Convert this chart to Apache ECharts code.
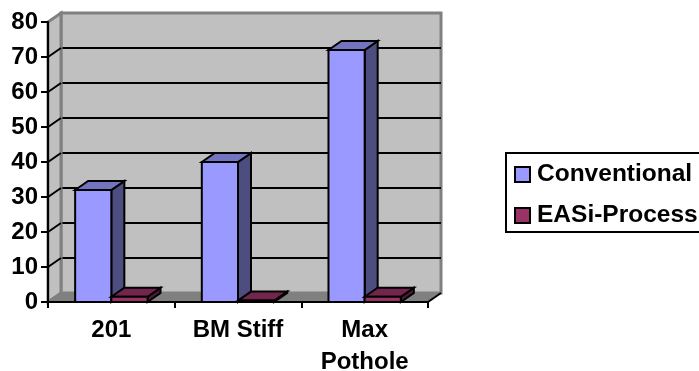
<!DOCTYPE html>
<html>
<head>
<meta charset="utf-8">
<style>
  html, body { margin: 0; padding: 0; background: #fff; }
  #chart { width: 699px; height: 371px; overflow: hidden; }
</style>
<script src="https://cdn.jsdelivr.net/npm/echarts@6/dist/echarts.min.js"></script>
</head>
<body>
<div id="chart"></div>
<script>
var categories = ['201', 'BM Stiff', 'Max\nPothole']
var conventional = [32, 40, 72]
var easiProcess = [1.5, 0.4, 1.5]
var yTicks = [0, 10, 20, 30, 40, 50, 60, 70, 80]

// how far the back wall sits behind the front plane, in pixels
var DX = 13
var DY = -9
var FONT = '"Liberation Sans", Arial, sans-serif'

function bar3d (slot, front, top, side) {
  return function (params, api) {
    var base = api.coord([api.value(0), 0])
    var head = api.coord([api.value(0), api.value(1)])
    var band = api.size([1, 0])[0]
    var w = band * 0.2857
    var x0 = base[0] - w + slot * w
    var x1 = x0 + w
    var y0 = base[1]
    var y1 = head[1]
    var edge = { stroke: '#000', lineWidth: 2, lineJoin: 'miter' }
    return {
      type: 'group',
      children: [
        { type: 'polygon', shape: { points: [[x1, y0], [x1 + DX, y0 + DY], [x1 + DX, y1 + DY], [x1, y1]] }, style: Object.assign({ fill: side }, edge) },
        { type: 'polygon', shape: { points: [[x0, y1], [x0 + DX, y1 + DY], [x1 + DX, y1 + DY], [x1, y1]] }, style: Object.assign({ fill: top }, edge) },
        { type: 'rect', shape: { x: x0, y: y1, width: w, height: y0 - y1 }, style: Object.assign({ fill: front }, edge) }
      ]
    }
  }
}

// left wall and floor, one pass over the ticks
function shell (params, api) {
  var v = api.value(0)
  var p = api.coord([0, v])
  var size = api.size([1, 80])
  var x = p[0] - size[0] / 2
  var children = [
    { type: 'line', shape: { x1: x, y1: p[1], x2: x + DX, y2: p[1] + DY }, style: { stroke: v === 0 || v === 80 ? '#808080' : '#000', lineWidth: 2 } }
  ]
  if (v === 0) {
    var right = x + size[0] * 3
    var bottom = p[1]
    var h = size[1]
    children.unshift(
      { type: 'polygon', shape: { points: [[x, bottom], [x + DX, bottom + DY], [x + DX, bottom + DY - h], [x, bottom - h]] }, style: { fill: '#c0c0c0', stroke: '#808080', lineWidth: 3 } },
      { type: 'polygon', shape: { points: [[x, bottom], [x + DX, bottom + DY], [right + DX, bottom + DY], [right, bottom]] }, style: { fill: '#808080' } },
      { type: 'line', shape: { x1: right, y1: bottom, x2: right + DX, y2: bottom + DY }, style: { stroke: '#000', lineWidth: 2 } }
    )
  }
  return { type: 'group', children: children }
}

var chart = echarts.init(document.getElementById('chart'), null, { renderer: 'canvas' })
chart.setOption({
  animation: false,
  backgroundColor: '#fff',
  grid: [
    { left: 48, width: 380, top: 22, height: 280, show: false, outerBoundsMode: 'none' },
    { left: 61, width: 380, top: 13, height: 280, show: true, backgroundColor: '#c0c0c0', borderColor: '#808080', borderWidth: 3, outerBoundsMode: 'none' }
  ],
  xAxis: [
    {
      type: 'category',
      gridIndex: 0,
      data: categories,
      z: 6,
      axisLine: { lineStyle: { color: '#000', width: 2 } },
      axisTick: { show: true, length: 6, alignWithLabel: false, lineStyle: { color: '#000', width: 2 } },
      axisLabel: { color: '#000', fontFamily: FONT, fontWeight: 'bold', fontSize: 24, lineHeight: 32, margin: 12, interval: 0 }
    },
    { type: 'category', gridIndex: 1, data: categories, show: false }
  ],
  yAxis: [
    {
      type: 'value',
      gridIndex: 0,
      min: 0,
      max: 80,
      interval: 10,
      z: 6,
      splitLine: { show: false },
      axisLine: { show: true, lineStyle: { color: '#000', width: 2 } },
      axisTick: { show: true, length: 7, lineStyle: { color: '#000', width: 2 } },
      axisLabel: { color: '#000', fontFamily: FONT, fontWeight: 'bold', fontSize: 24, margin: 10 }
    },
    {
      type: 'value',
      gridIndex: 1,
      min: 0,
      max: 80,
      interval: 10,
      axisLine: { show: false },
      axisTick: { show: false },
      axisLabel: { show: false },
      splitLine: { show: true, showMinLine: false, showMaxLine: false, lineStyle: { color: '#000', width: 2 } }
    }
  ],
  legend: {
    left: 506,
    top: 153,
    orient: 'vertical',
    data: ['Conventional', 'EASi-Process'],
    padding: [9, 40, 4, 8],
    itemWidth: 15,
    itemHeight: 15,
    itemGap: 16,
    icon: 'rect',
    borderColor: '#000',
    borderWidth: 2,
    textStyle: { color: '#000', fontFamily: FONT, fontWeight: 'bold', fontSize: 24.5, lineHeight: 24, padding: [0, 0, 0, 2] }
  },
  series: [
    {
      name: 'shell',
      type: 'custom',
      z: 1,
      silent: true,
      xAxisIndex: 0,
      yAxisIndex: 0,
      encode: { x: 1, y: 0 },
      data: yTicks.map(function (t) { return [t, 0] }),
      renderItem: shell
    },
    {
      name: 'Conventional',
      type: 'custom',
      z: 3,
      xAxisIndex: 0,
      yAxisIndex: 0,
      encode: { x: 0, y: 1 },
      itemStyle: { color: '#9999ff', borderColor: '#000', borderWidth: 2 },
      data: conventional.map(function (v, i) { return [i, v] }),
      renderItem: bar3d(0, '#9999ff', '#7373bf', '#4d4d80')
    },
    {
      name: 'EASi-Process',
      type: 'custom',
      z: 4,
      xAxisIndex: 0,
      yAxisIndex: 0,
      encode: { x: 0, y: 1 },
      itemStyle: { color: '#993366', borderColor: '#000', borderWidth: 2 },
      data: easiProcess.map(function (v, i) { return [i, v] }),
      renderItem: bar3d(1, '#993366', '#73264d', '#4d1a33')
    }
  ]
})
</script>
</body>
</html>
